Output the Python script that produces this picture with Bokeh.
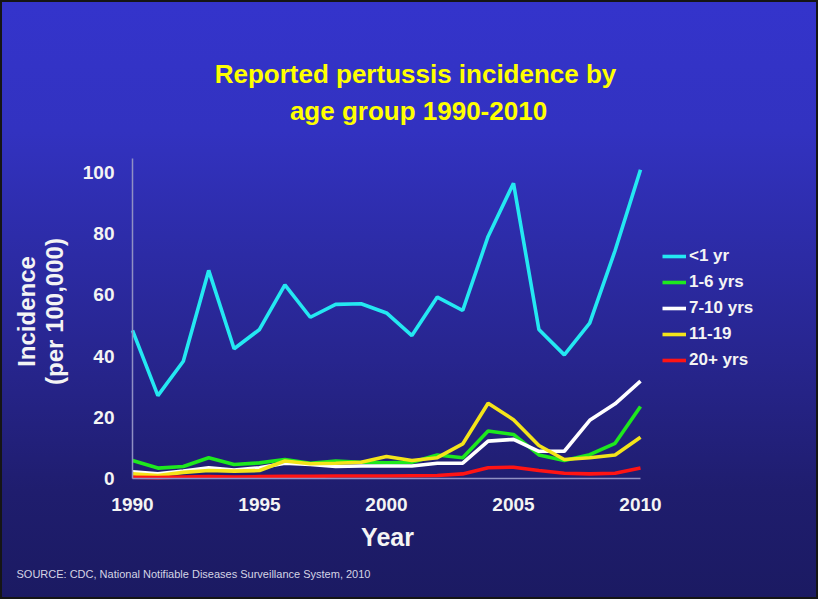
import math
from bokeh.plotting import figure
from bokeh.models import Range1d, FixedTicker, Label, Legend, LegendItem
from bokeh.embed import file_html
from bokeh.resources import INLINE

# ---------------- data ----------------
years = list(range(1990, 2011))
under_1 = [48.4, 27.1, 38.3, 68.0, 42.4, 48.7, 63.3, 52.7, 56.9, 57.1, 54.1,
           46.7, 59.3, 54.9, 79.1, 96.5, 48.7, 40.4, 50.8, 74.5, 100.9]
age_1_6 = [5.9, 3.4, 3.9, 6.8, 4.6, 5.1, 6.2, 5.0, 5.7, 5.3, 5.1,
           5.3, 7.7, 6.8, 15.5, 14.4, 7.7, 5.9, 7.8, 11.5, 23.5]
age_7_10 = [2.2, 1.5, 2.4, 3.5, 2.8, 3.5, 5.0, 4.6, 3.9, 4.1, 4.1,
            4.1, 5.0, 5.0, 12.2, 12.8, 8.9, 8.9, 19.0, 24.4, 31.8]
age_11_19 = [1.5, 1.0, 2.0, 2.6, 2.4, 2.6, 5.7, 4.8, 5.0, 5.3, 7.2,
             5.9, 6.8, 11.3, 24.6, 19.2, 10.8, 6.2, 6.8, 7.7, 13.5]
age_20_plus = [0.4, 0.3, 0.5, 0.6, 0.5, 0.6, 0.7, 0.7, 0.8, 0.8, 0.8,
               0.9, 1.0, 1.5, 3.5, 3.7, 2.6, 1.7, 1.5, 1.7, 3.4]

series_labels = ["<1 yr", "1-6 yrs", "7-10 yrs", "11-19", "20+ yrs"]
x_ticks = [1990, 1995, 2000, 2005, 2010]
y_ticks = [0, 20, 40, 60, 80, 100]
title_lines = ["Reported pertussis incidence by", "age group 1990-2010"]
x_title = "Year"
y_title_lines = ["Incidence", "(per 100,000)"]
source_note = "SOURCE: CDC, National Notifiable Diseases Surveillance System, 2010"

# ---------------- styling / layout ----------------
series_colors = ["#24e8f2", "#1ee81e", "#ffffff", "#f4e41a", "#ff1414"]
FONT = "Liberation Sans"
W, H = 818, 599

# pixel anchors of the axes (1990 -> x=132, 2010 -> x=640, 0 -> y=478, 100 -> y=172)
PX_X0, PX_PER_YR = 132.0, 25.4
PX_Y0, PX_PER_UNIT = 478.0, 3.06

def dx(px):
    return 1990 + (px - PX_X0) / PX_PER_YR

def dy(py):
    return (PX_Y0 - py) / PX_PER_UNIT

p = figure(width=W, height=H, output_backend="svg", toolbar_location=None,
           x_range=Range1d(dx(0), dx(W)), y_range=Range1d(dy(H), dy(0)),
           min_border=0)
p.title.visible = False
p.background_fill_color = None
p.border_fill_color = None
p.outline_line_color = None
p.xgrid.visible = False
p.ygrid.visible = False
p.styles = {
    "background": "linear-gradient(180deg, #3434cc 0%, #3232c0 22%, #27258e 60%, #1f1d6e 82%, #1b1a62 100%)",
    "outline": "2px solid #151515",
    "outline-offset": "-2px",
}

all_series = [under_1, age_1_6, age_7_10, age_11_19, age_20_plus]
renderers = []
for vals, col in zip(all_series, series_colors):
    r = p.line(years, vals, line_color=col, line_width=3.6)
    renderers.append(r)

for ax in (p.xaxis, p.yaxis):
    ax.major_tick_line_color = None
    ax.minor_tick_line_color = None
    ax.major_tick_out = 0
    ax.major_tick_in = 0
    ax.axis_line_color = "#9090c4"
    ax.axis_line_width = 1.5
    ax.major_label_text_font = FONT
    ax.major_label_text_font_style = "bold"
    ax.major_label_text_font_size = "19px"
    ax.major_label_text_color = "#f4f4f4"

p.xaxis.ticker = FixedTicker(ticks=x_ticks)
p.yaxis.ticker = FixedTicker(ticks=y_ticks)
p.xaxis.fixed_location = 0
p.yaxis.fixed_location = 1990
p.xaxis.bounds = (1990, 2010)
p.yaxis.bounds = (0, dy(158))
p.xaxis.major_label_standoff = 19
p.yaxis.major_label_standoff = 18

# titles / labels
def add_text(px, py, text, size, color, bold=True, align="center", angle=0.0):
    p.add_layout(Label(x=dx(px), y=dy(py), text=text, text_align=align,
                       text_baseline="alphabetic", text_font=FONT,
                       text_font_style="bold" if bold else "normal",
                       text_font_size=size, text_color=color, angle=angle))

add_text(415, 73.5, title_lines[0], "26px", "#ffff00")
add_text(418, 110, title_lines[1], "26px", "#ffff00")
add_text(387, 536.5, x_title, "25px", "#f4f4f4")
add_text(26, 311, y_title_lines[0], "24px", "#f4f4f4", angle=math.pi / 2)
add_text(54, 311, y_title_lines[1], "24px", "#f4f4f4", angle=math.pi / 2)
add_text(16, 573.5, source_note, "11px", "#d4d4e4", bold=False, align="left")

legend = Legend(
    items=[LegendItem(label=lbl, renderers=[r]) for lbl, r in zip(series_labels, renderers)],
    location=(662, H - 370),
    glyph_width=24, glyph_height=20, label_height=20, spacing=6, padding=5,
    label_standoff=3, label_text_font=FONT, label_text_font_style="bold",
    label_text_font_size="17px", label_text_color="#f4f4f4",
    background_fill_alpha=0, border_line_color=None,
)
p.add_layout(legend)

open("out.html", "w").write(file_html(p, INLINE))
